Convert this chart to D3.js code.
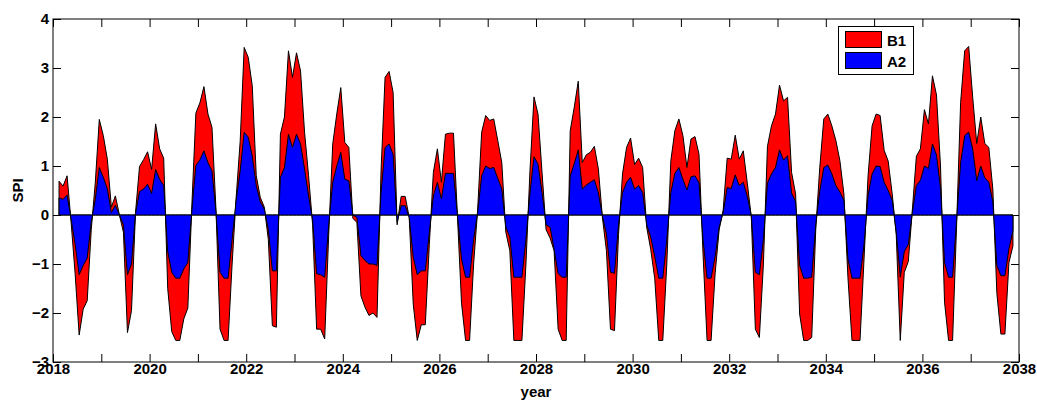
<!DOCTYPE html>
<html>
<head>
<meta charset="utf-8">
<script src="https://cdn.jsdelivr.net/npm/d3@7"></script>
<style>
  html, body { margin: 0; padding: 0; background: #fff; }
  svg { display: block; }
  text { font-family: "Liberation Sans", Arial, sans-serif; font-weight: bold; }
</style>
</head>
<body>
<svg id="chart" width="1037" height="401"></svg>
<script>
// ---- data (monthly SPI values) ----
const seriesNames = ["B1", "A2"];
const B1 = [
 0.69,0.59,0.80,-0.15,-1.2,-2.45,-1.92,-1.75,-0.3,0.65,1.95,1.62,1.14,0.16,0.39,0.0,-0.35,-2.4,-1.95,0.05,
 0.99,1.13,1.29,0.93,1.86,1.35,1.16,-1.5,-2.38,-2.56,-2.56,-2.12,-1.9,0.2,2.08,2.29,2.62,2.06,1.79,0.1,
 -2.33,-2.56,-2.56,-1.0,0.35,1.5,3.42,3.22,2.64,0.8,0.36,0.16,-0.5,-2.26,-2.29,1.65,2.0,3.35,2.81,3.31,
 2.94,1.69,0.8,-0.2,-2.33,-2.33,-2.53,-0.4,1.45,2.06,2.6,1.48,1.38,-0.07,-0.15,-1.65,-1.88,-2.05,-2.0,-2.09,
 0.9,2.81,2.93,2.5,-0.2,0.38,0.38,-0.05,-1.82,-2.56,-2.24,-2.24,-0.6,0.87,1.35,0.67,1.65,1.67,1.67,-0.05,
 -1.8,-2.56,-2.56,-1.0,0.1,1.69,2.03,1.93,1.96,1.52,1.07,-0.35,-0.73,-2.56,-2.56,-2.56,-1.0,0.9,2.41,2.06,
 0.87,-0.3,-0.47,-0.73,-2.33,-2.56,-2.56,1.72,2.2,2.73,1.07,1.23,1.28,1.4,0.94,-0.05,-0.73,-2.33,-2.36,-0.4,
 0.84,1.38,1.57,1.03,1.16,0.97,-0.25,-0.7,-1.3,-2.56,-2.56,-1.0,1.11,1.72,1.96,1.62,0.97,1.55,1.6,1.24,
 -0.8,-2.56,-2.56,-1.2,-0.3,0.1,1.16,1.14,1.63,1.14,1.31,0.65,-0.05,-2.33,-2.5,-1.0,1.4,1.82,2.06,2.65,
 2.33,2.4,0.87,0.43,-2.02,-2.56,-2.56,-2.5,-0.3,0.97,1.96,2.06,1.82,1.52,1.11,0.43,-1.27,-2.56,-2.56,-2.56,
 -0.9,0.8,1.82,2.06,2.03,1.32,1.1,0.43,-0.4,-2.56,-1.17,-0.95,0.1,1.2,1.35,2.15,1.86,2.84,2.45,1.0,
 -1.78,-2.56,-2.56,-0.2,2.3,3.35,3.44,2.4,1.46,2.0,1.46,1.38,0.53,-1.6,-2.43,-2.43,-0.97,-0.63
];
const A2 = [
 0.35,0.32,0.41,-0.08,-0.6,-1.22,-1.03,-0.88,-0.15,0.32,0.97,0.77,0.53,0.05,0.2,0.0,-0.2,-1.22,-1.0,0.03,
 0.48,0.53,0.63,0.44,0.93,0.73,0.6,-0.75,-1.17,-1.29,-1.29,-1.1,-0.97,0.1,1.01,1.13,1.31,1.07,0.9,0.05,
 -1.17,-1.29,-1.29,-0.5,0.3,0.9,1.69,1.59,1.21,0.6,0.27,0.12,-0.3,-1.14,-1.14,0.77,0.97,1.65,1.38,1.65,
 1.45,0.94,0.39,-0.1,-1.2,-1.22,-1.27,-0.2,0.67,1.0,1.28,0.73,0.7,0.0,-0.05,-0.83,-0.93,-1.0,-1.0,-1.03,
 0.45,1.38,1.45,1.24,-0.15,0.19,0.19,-0.05,-0.86,-1.22,-1.14,-1.14,-0.35,0.39,0.67,0.33,0.85,0.85,0.85,-0.02,
 -0.9,-1.27,-1.27,-0.5,0.05,0.8,1.0,0.95,0.97,0.75,0.53,-0.25,-0.45,-1.27,-1.27,-1.27,-0.5,0.45,1.19,1.04,
 0.46,-0.2,-0.25,-0.7,-1.2,-1.27,-1.27,0.8,1.05,1.33,0.53,0.61,0.67,0.72,0.45,-0.02,-0.39,-1.17,-1.19,-0.2,
 0.46,0.67,0.77,0.53,0.6,0.46,-0.2,-0.45,-0.85,-1.29,-1.29,-0.5,0.46,0.85,0.97,0.73,0.51,0.78,0.8,0.66,
 -0.5,-1.29,-1.29,-0.85,-0.25,0.05,0.56,0.54,0.82,0.6,0.67,0.38,-0.02,-1.17,-1.22,-0.5,0.65,0.84,0.97,1.33,
 1.12,1.21,0.45,0.27,-1.03,-1.29,-1.29,-1.27,-0.2,0.49,0.97,1.02,0.84,0.6,0.47,0.3,-0.9,-1.29,-1.29,-1.29,
 -0.6,0.4,0.84,1.0,0.99,0.67,0.5,0.3,-0.35,-1.27,-0.75,-0.6,0.05,0.6,0.71,1.0,0.95,1.45,1.23,0.55,
 -0.97,-1.27,-1.27,-0.1,1.07,1.62,1.69,1.35,0.7,1.0,0.76,0.67,0.27,-1.03,-1.24,-1.24,-0.69,-0.32
];
// time of each monthly value (decimal year)
const startYear = 2018;
const times = B1.map((_, i) => startYear + (i + 1.5) / 12);
const xTicks = d3.range(2018, 2039, 1);
const xLabels = d3.range(2018, 2039, 2);
const yTicks = [-3, -2, -1, 0, 1, 2, 3, 4];
const colors = { B1: "#ff0000", A2: "#0000ff" };

// ---- layout ----
const svg = d3.select("#chart");
const L = 53, R = 1019, T = 19, B = 362;
const x = d3.scaleLinear().domain([2018, 2038]).range([L, R]);
const y = d3.scaleLinear().domain([-3, 4]).range([B, T]);

const area = d3.area()
  .x(d => x(d[0]))
  .y0(y(0))
  .y1(d => y(d[1]));

const dataB1 = times.map((t, i) => [t, B1[i]]);
const dataA2 = times.map((t, i) => [t, A2[i]]);

const plot = svg.append("g");
plot.append("path").datum(dataB1).attr("d", area)
  .attr("fill", colors.B1).attr("stroke", "#000").attr("stroke-width", 1).attr("stroke-linejoin", "miter");
plot.append("path").datum(dataA2).attr("d", area)
  .attr("fill", colors.A2).attr("stroke", "#000").attr("stroke-width", 1).attr("stroke-linejoin", "miter");

// ---- axes (MATLAB style: ticks inside, box) ----
const tk = 8;
const fmtX = d => xLabels.includes(d) ? String(d) : "";
const axB = d3.axisBottom(x).tickValues(xTicks).tickFormat(fmtX).tickSizeInner(-tk).tickSizeOuter(0).tickPadding(1);
const axT = d3.axisTop(x).tickValues(xTicks).tickFormat("").tickSizeInner(-tk).tickSizeOuter(0);
const axLft = d3.axisLeft(y).tickValues(yTicks).tickFormat(d3.format("d")).tickSizeInner(-tk).tickSizeOuter(0).tickPadding(4);
const axRgt = d3.axisRight(y).tickValues(yTicks).tickFormat("").tickSizeInner(-tk).tickSizeOuter(0);

function style(g) {
  g.selectAll(".domain").remove();
  g.selectAll("line").attr("stroke", "#000").attr("stroke-width", 1);
  g.selectAll("text").attr("fill", "#000").style("font-size", "15px").style("font-weight", "bold")
    .style("font-family", '"Liberation Sans", Arial, sans-serif');
}
svg.append("g").attr("transform", `translate(0,${B})`).call(axB).call(style);
svg.append("g").attr("transform", `translate(0,${T})`).call(axT).call(style);
svg.append("g").attr("transform", `translate(${L},0)`).call(axLft).call(style);
svg.append("g").attr("transform", `translate(${R},0)`).call(axRgt).call(style);

svg.append("rect").attr("x", L).attr("y", T).attr("width", R - L).attr("height", B - T)
  .attr("fill", "none").attr("stroke", "#000").attr("stroke-width", 1);

// axis labels
svg.append("text").attr("x", (L + R) / 2).attr("y", 397).attr("text-anchor", "middle")
  .style("font-size", "15px").text("year");
svg.append("text").attr("transform", `translate(23,${(T + B) / 2}) rotate(-90)`)
  .attr("text-anchor", "middle").style("font-size", "15px").text("SPI");

// ---- legend ----
const lg = svg.append("g");
lg.append("rect").attr("x", 838.5).attr("y", 26.5).attr("width", 75).attr("height", 48)
  .attr("fill", "#fff").attr("stroke", "#000").attr("stroke-width", 1);
seriesNames.forEach((name, k) => {
  const yy = 31 + k * 21;
  lg.append("rect").attr("x", 845.5).attr("y", yy + 0.5).attr("width", 36).attr("height", 16)
    .attr("fill", colors[name]).attr("stroke", "#000").attr("stroke-width", 1);
  lg.append("text").attr("x", 887).attr("y", yy + 14.5).style("font-size", "15px").text(name);
});
</script>
</body>
</html>
